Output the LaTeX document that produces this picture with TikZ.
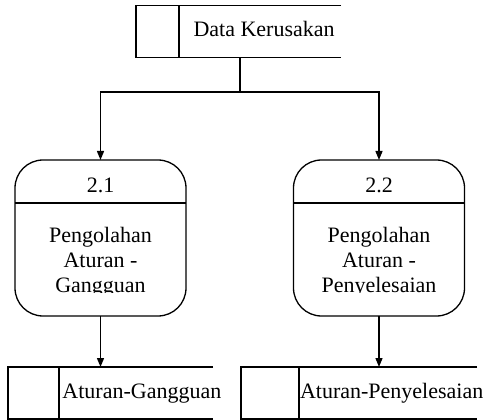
\documentclass[tikz,border=0pt]{standalone}
\usepackage{fontspec}
\setmainfont{Liberation Serif}
\usetikzlibrary{arrows.meta}
\tikzset{
  line/.style={line width=1.3pt, draw=black},
  flow/.style={line, -{Triangle[length=9pt,width=7pt]}},
  lbl/.style={font=\fontsize{22}{25}\selectfont, inner sep=0pt, outer sep=0pt},
  storebox/.style={rectangle, inner sep=0pt, outer sep=0pt, minimum height=52pt},
  procbox/.style={rectangle, rounded corners=28pt, line, inner sep=0pt, outer sep=0pt,
                  minimum width=171pt, minimum height=156pt},
}
\newcommand{\drawstore}[2]{% node name, divider x
  \draw[line] (#1.north east) -- (#1.north west) -- (#1.south west) -- (#1.south east);
  \draw[line] (#2,0 |- #1.north) -- (#2,0 |- #1.south);
}
\begin{document}
\begin{tikzpicture}[x=1pt,y=-1pt]
\useasboundingbox (0,0) rectangle (491,420);

% data stores
\node[storebox, minimum width=205pt] (ds) at (238.5,31.5) {};
\drawstore{ds}{179}
\node[lbl, anchor=base west] (dst) at (193.5,37) {Data Kerusakan};

\node[storebox, minimum width=205pt] (s1) at (110.5,393) {};
\drawstore{s1}{59}
\node[lbl, anchor=base west] (s1t) at (62.5,398.5) {Aturan-Gangguan};

\node[storebox, minimum width=236pt] (s2) at (359,393) {};
\drawstore{s2}{299}
\node[lbl, anchor=base west] (s2t) at (300,398.5) {Aturan-Penyelesaian};

% processes
\node[procbox] (p1) at (100.5,238) {};
\node[procbox] (p2) at (379,238) {};
\draw[line] (p1.west |- 0,203) -- (p1.east |- 0,203);
\draw[line] (p2.west |- 0,203) -- (p2.east |- 0,203);
\node[lbl, anchor=base] (p1n) at (100.5,192.5) {2.1};
\node[lbl, anchor=base] (p2n) at (379,192.5) {2.2};
\begin{scope}
  \clip (15,204) rectangle (466,292.5);
  \node[lbl, align=center] (p1t) at (100.5,262.6) {Pengolahan\\Aturan -\\Gangguan};
  \node[lbl, align=center] (p2t) at (379,262.6) {Pengolahan\\Aturan -\\Penyelesaian};
\end{scope}

% flows
\coordinate (j) at (240,92);
\draw[line] (j |- ds.south) -- (j);
\draw[flow] (j) -| (p1.north);
\draw[flow] (j) -| (p2.north);
\draw[flow] (p1.south) -- (p1.south |- s1.north);
\draw[flow] (p2.south) -- (p2.south |- s2.north);
\end{tikzpicture}
\end{document}
